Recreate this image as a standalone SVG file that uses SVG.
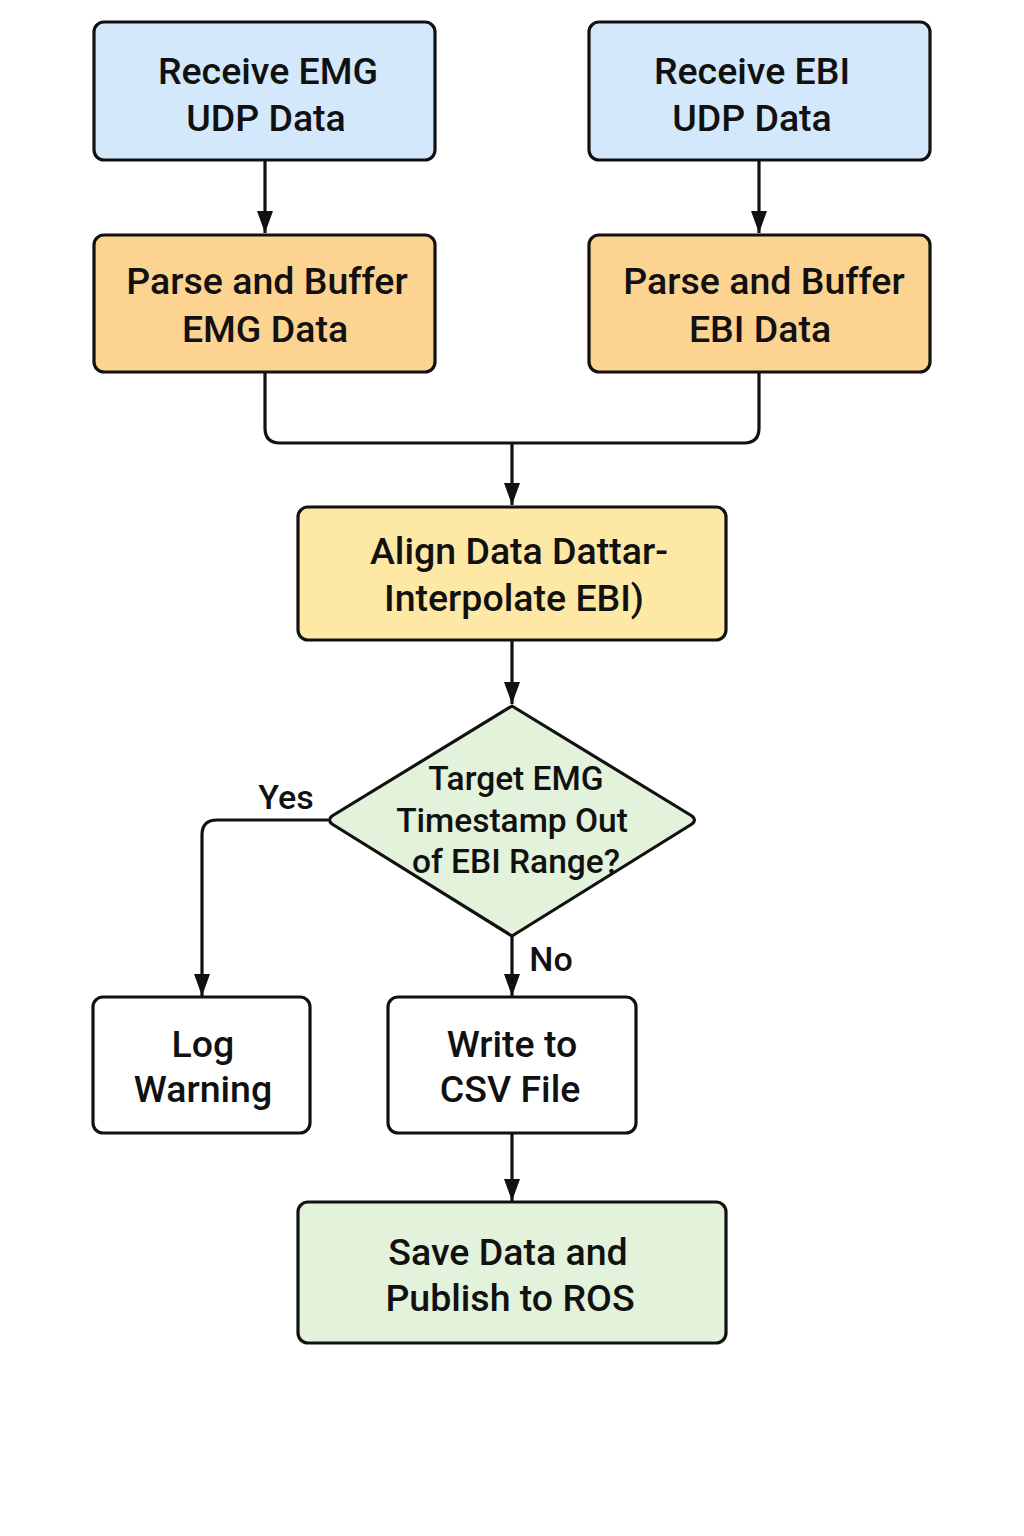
<svg xmlns="http://www.w3.org/2000/svg" width="1024" height="1536" viewBox="0 0 1024 1536">
<defs>
<marker id="arr" viewBox="0 0 22 16" refX="22" refY="8" markerWidth="22" markerHeight="16" markerUnits="userSpaceOnUse" orient="auto">
<path d="M0,0 L22,8 L0,16 Z" fill="#111"/>
</marker>
<style>
.box{stroke:#111;stroke-width:3.2}
.t{font-family:Roboto,"Liberation Sans",Arial,sans-serif;font-weight:500;font-size:37.5px;fill:#111;text-anchor:middle}
.d{font-size:33.5px}
.lbl{font-family:Roboto,"Liberation Sans",Arial,sans-serif;font-weight:500;font-size:34px;fill:#111}
.c{fill:none;stroke:#111;stroke-width:3.2}
</style>
</defs>
<rect width="1024" height="1536" fill="#fff"/>
<g id="connectors">
<path class="c" d="M265,160 L265,233" marker-end="url(#arr)"/>
<path class="c" d="M759,160 L759,233" marker-end="url(#arr)"/>
<path class="c" d="M265,372 L265,428 Q265,443 280,443 L744,443 Q759,443 759,428 L759,372"/>
<path class="c" d="M512,443 L512,505" marker-end="url(#arr)"/>
<path class="c" d="M512,640 L512,704" marker-end="url(#arr)"/>
<path class="c" d="M328,820 L217,820 Q202,820 202,835 L202,996" marker-end="url(#arr)"/>
<path class="c" d="M512,936 L512,996" marker-end="url(#arr)"/>
<path class="c" d="M512,1133 L512,1201" marker-end="url(#arr)"/>
<text class="lbl" x="286" y="809" text-anchor="middle">Yes</text>
<text class="lbl" x="551" y="971" text-anchor="middle">No</text>
</g>
<g id="n1">
<rect class="box" x="94" y="22" width="341" height="138" rx="10" fill="#D4E8FB"/>
<text class="t" x="268" y="84">Receive EMG</text>
<text class="t" x="266" y="131">UDP Data</text>
</g>
<g id="n2">
<rect class="box" x="589" y="22" width="341" height="138" rx="10" fill="#D4E8FB"/>
<text class="t" x="752" y="84">Receive EBI</text>
<text class="t" x="752" y="131">UDP Data</text>
</g>
<g id="n3">
<rect class="box" x="94" y="235" width="341" height="137" rx="10" fill="#FCD391"/>
<text class="t" x="267" y="294">Parse and Buffer</text>
<text class="t" x="265" y="342">EMG Data</text>
</g>
<g id="n4">
<rect class="box" x="589" y="235" width="341" height="137" rx="10" fill="#FCD391"/>
<text class="t" x="764" y="294">Parse and Buffer</text>
<text class="t" x="760" y="342">EBI Data</text>
</g>
<g id="n5">
<rect class="box" x="298" y="507" width="428" height="133" rx="10" fill="#FEE8A6"/>
<text class="t" x="519" y="564">Align Data Dattar-</text>
<text class="t" x="514" y="611">Interpolate EBI)</text>
</g>
<g id="n6">
<path class="box" d="M512,706 L692,816 Q697,820 692,824 L512,936 L332,824 Q327,820 332,816 Z" fill="#E3F2DA" stroke-linejoin="round"/>
<text class="t d" x="516" y="790">Target EMG</text>
<text class="t d" x="512" y="832">Timestamp Out</text>
<text class="t d" x="516" y="873">of EBI Range?</text>
</g>
<g id="n7">
<rect class="box" x="93" y="997" width="217" height="136" rx="10" fill="#fff"/>
<text class="t" x="203" y="1057">Log</text>
<text class="t" x="203" y="1102">Warning</text>
</g>
<g id="n8">
<rect class="box" x="388" y="997" width="248" height="136" rx="10" fill="#fff"/>
<text class="t" x="512" y="1057">Write to</text>
<text class="t" x="510" y="1102">CSV File</text>
</g>
<g id="n9">
<rect class="box" x="298" y="1202" width="428" height="141" rx="10" fill="#E3F2DA"/>
<text class="t" x="508" y="1265">Save Data and</text>
<text class="t" x="510" y="1311">Publish to ROS</text>
</g>
</svg>
